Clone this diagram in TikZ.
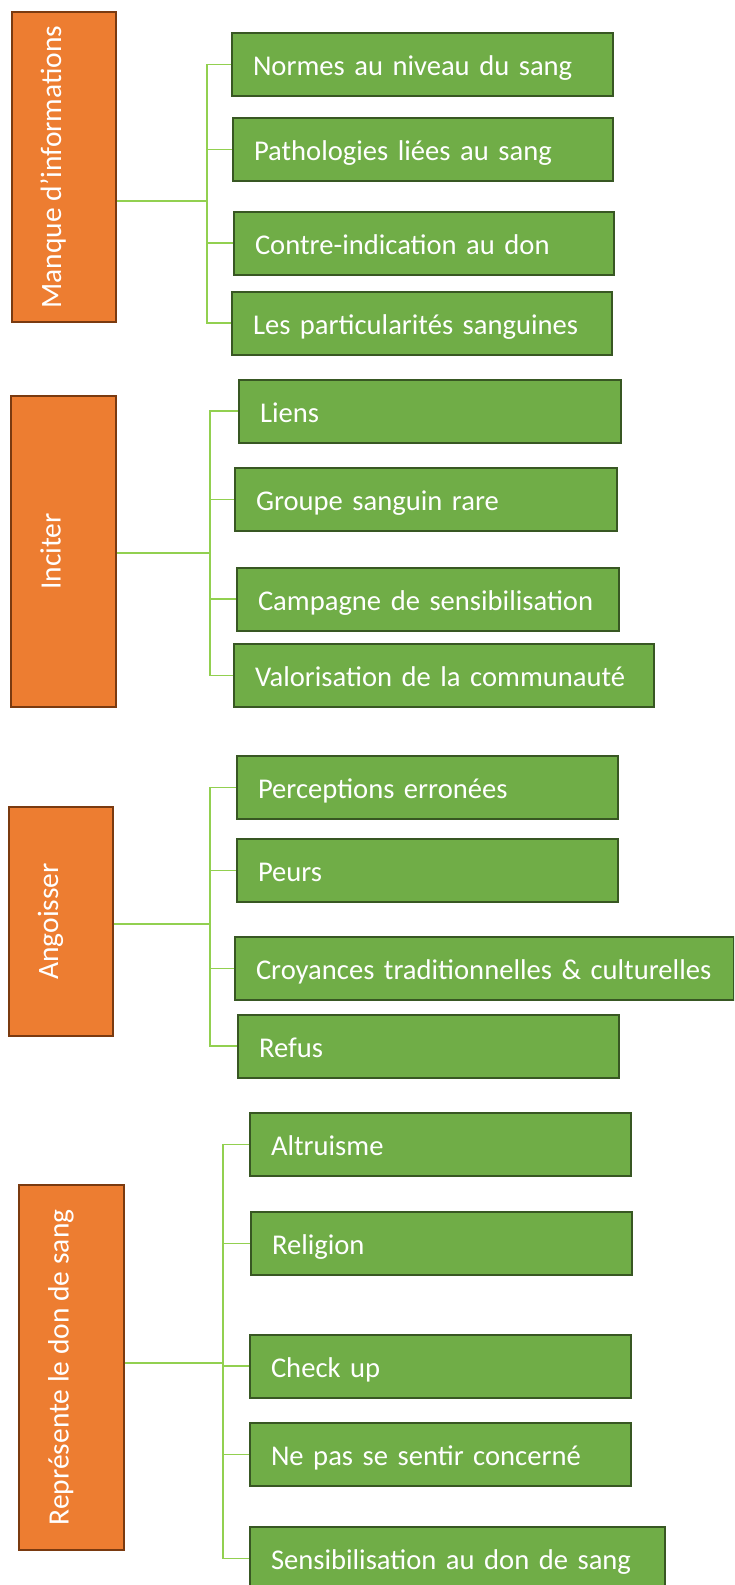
\documentclass[tikz,border=0pt]{standalone}
\usepackage{fontspec}
\setmainfont{Carlito}
\usepackage{tikz}

\definecolor{themeorange}{HTML}{ED7D31}
\definecolor{themebrown}{HTML}{7A3A10}
\definecolor{leafgreen}{HTML}{70AD47}
\definecolor{leafdark}{HTML}{385723}
\definecolor{linkgreen}{HTML}{92D050}

\begin{document}
\begin{tikzpicture}[x=1pt,y=-1pt,
	theme/.style={draw=themebrown,fill=themeorange,line width=2pt,text=white,rotate=90,inner sep=0pt,text height=12pt,text depth=18pt,font=\fontsize{29.5}{34}\selectfont},
	leaf/.style={draw=leafdark,fill=leafgreen,line width=2pt,text=white,anchor=west,minimum height=63pt,inner xsep=21pt,inner ysep=0pt,align=left,text width=#1,text height=22pt,text depth=0pt,font=\fontsize{28.6}{32}\selectfont},
	link/.style={draw=linkgreen,line width=1.3pt},
	elbow/.style={to path={|- (\tikztotarget)}}]
	\useasboundingbox (0,0) rectangle (734,1585);
	\clip (0,0) rectangle (734,1585);

	\node[theme,minimum width=310pt,minimum height=104pt] (man) at (64,167)    {Manque d’informations};
	\node[leaf=339pt] (n1) at (231,64.5)  {Normes au niveau du sang};
	\node[leaf=338pt] (n2) at (232,149.5) {Pathologies liées au sang};
	\node[leaf=338pt] (n3) at (233,243)   {Contre-indication au don};
	\node[leaf=338pt] (n4) at (231,323)   {Les particularités sanguines};
	\coordinate (j1) at (207,201);

	\node[theme,minimum width=311pt,minimum height=105pt] (inc) at (63.5,551.5) {Inciter};
	\node[leaf=340pt] (l1) at (238,411)   {Liens};
	\node[leaf=340pt] (l2) at (234,499.5) {Groupe sanguin rare};
	\node[leaf=340pt] (l3) at (236,599)   {Campagne de sensibilisation};
	\node[leaf=378pt] (l4) at (233,675.5) {Valorisation de la communauté};
	\coordinate (j2) at (210,553);

	\node[theme,minimum width=229pt,minimum height=104pt] (ang) at (61,921.5) {Angoisser};
	\node[leaf=339pt] (p1) at (236,787.5) {Perceptions erronées};
	\node[leaf=339pt] (p2) at (236,870.5) {Peurs};
	\node[leaf=457pt] (p3) at (234,968.5) {Croyances traditionnelles \& culturelles};
	\node[leaf=339pt] (p4) at (237,1046)  {Refus};
	\coordinate (j3) at (210,924);

	\node[theme,minimum width=365pt,minimum height=105pt] (rep) at (71.5,1367.5) {Représente le don de sang};
	\node[leaf=339pt] (r1) at (249,1144.5) {Altruisme};
	\node[leaf=339pt] (r2) at (250,1243.5) {Religion};
	\node[leaf=339pt] (r3) at (249,1366)   {Check up};
	\node[leaf=339pt] (r4) at (249,1454.5) {Ne pas se sentir concerné};
	\node[leaf=373pt] (r5) at (249,1558.5) {Sensibilisation au don de sang};
	\coordinate (j4) at (223,1363);

	\path[link] (man.south |- j1) edge (j1);
	\path[link] (j1) edge[elbow] (n1.west);
	\path[link] (j1) edge[elbow] (n2.west);
	\path[link] (j1) edge[elbow] (n3.west);
	\path[link] (j1) edge[elbow] (n4.west);

	\path[link] (inc.south |- j2) edge (j2);
	\path[link] (j2) edge[elbow] (l1.west);
	\path[link] (j2) edge[elbow] (l2.west);
	\path[link] (j2) edge[elbow] (l3.west);
	\path[link] (j2) edge[elbow] (l4.west);

	\path[link] (ang.south |- j3) edge (j3);
	\path[link] (j3) edge[elbow] (p1.west);
	\path[link] (j3) edge[elbow] (p2.west);
	\path[link] (j3) edge[elbow] (p3.west);
	\path[link] (j3) edge[elbow] (p4.west);

	\path[link] (rep.south |- j4) edge (j4);
	\path[link] (j4) edge[elbow] (r1.west);
	\path[link] (j4) edge[elbow] (r2.west);
	\path[link] (j4) edge[elbow] (r3.west);
	\path[link] (j4) edge[elbow] (r4.west);
	\path[link] (j4) edge[elbow] (r5.west);

\end{tikzpicture}
\end{document}
